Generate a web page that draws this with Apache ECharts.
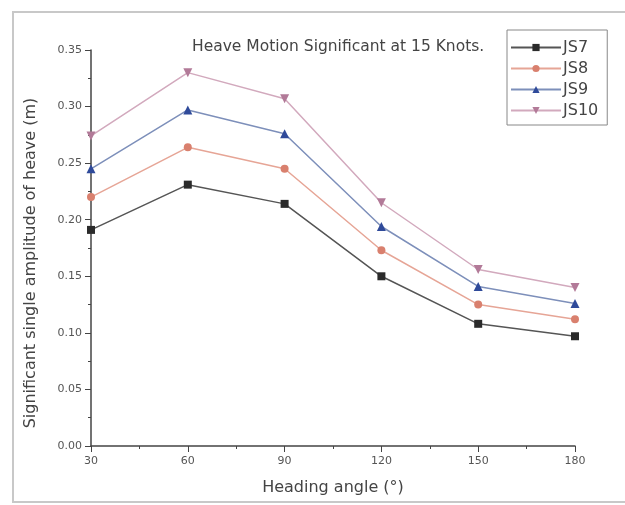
<!DOCTYPE html>
<html><head><meta charset="utf-8">
<script src="https://cdn.jsdelivr.net/npm/echarts@6/dist/echarts.min.js"></script>
<style>html,body{margin:0;padding:0;background:#fff}#c{width:625px;height:505px}</style>
</head><body><div id="c"></div>
<script>
const headings = [30, 60, 90, 120, 150, 180];
const js7  = [0.191, 0.231, 0.214, 0.150, 0.108, 0.097];
const js8  = [0.220, 0.264, 0.245, 0.173, 0.125, 0.112];
const js9  = [0.245, 0.297, 0.276, 0.194, 0.141, 0.126];
const js10 = [0.274, 0.330, 0.307, 0.215, 0.156, 0.140];
const seriesNames = ['JS7', 'JS8', 'JS9', 'JS10'];

const font = 'DejaVu Sans, Liberation Sans, Arial, sans-serif';
const styles = [
  {symbol: 'rect', size: 8, mark: '#2b2b2b', line: '#555555'},
  {symbol: 'circle', size: 8, mark: '#d9806e', line: '#e6a596'},
  {symbol: 'triangle', size: 9, mark: '#2f4a9a', line: '#7d8fba'},
  {symbol: 'path://M0,0 L10,0 L5,9 Z', size: 9, mark: '#b27a98', line: '#d2a9bd'}
];
const data = [js7, js8, js9, js10];
const chart = echarts.init(document.getElementById('c'));
chart.setOption({
  animation: false,
  textStyle: {fontFamily: font},
  graphic: [
    {type: 'rect', shape: {x: 13, y: 12, width: 620, height: 490},
      style: {fill: 'none', stroke: '#c8c8c8', lineWidth: 2}, silent: true},
    {type: 'text', x: 31, y: 263, rotation: Math.PI / 2, silent: true,
      style: {text: 'Significant single amplitude of heave (m)', fill: '#444',
        font: '16px ' + font, textAlign: 'center', textVerticalAlign: 'middle'}}
  ],
  title: {text: 'Heave Motion Significant at 15 Knots.', left: 187, top: 34,
    textStyle: {fontSize: 15.5, fontWeight: 'normal', color: '#444', fontFamily: font}},
  legend: {orient: 'vertical', left: 507, top: 30, width: 105,
    itemWidth: 50, itemHeight: 9, itemGap: 4,
    padding: [9, 9, 6, 3], borderColor: '#888', borderWidth: 1,
    textStyle: {fontSize: 16, lineHeight: 17, color: '#444', fontFamily: font, padding: [0, 0, 0, -3]},
    data: seriesNames},
  grid: {left: 91, right: 50, top: 50, bottom: 59},
  xAxis: {type: 'value', min: 30, max: 180, interval: 30,
    name: 'Heading angle (°)', nameLocation: 'middle', nameGap: 34,
    nameTextStyle: {fontSize: 16, color: '#444'},
    axisLine: {show: true, lineStyle: {color: '#444', width: 1.5}},
    axisTick: {show: true, length: 6, lineStyle: {color: '#444'}},
    minorTick: {show: true, splitNumber: 2, length: 3, lineStyle: {color: '#444'}},
    splitLine: {show: false},
    axisLabel: {fontSize: 11, color: '#555', margin: 10}},
  yAxis: {type: 'value', min: 0, max: 0.35, interval: 0.05,
    axisLine: {show: true, lineStyle: {color: '#444', width: 1.5}},
    axisTick: {show: true, length: 6, lineStyle: {color: '#444'}},
    minorTick: {show: true, splitNumber: 2, length: 3, lineStyle: {color: '#444'}},
    splitLine: {show: false},
    axisLabel: {fontSize: 11, color: '#555', margin: 9, formatter: v => v.toFixed(2)}},
  series: seriesNames.map((n, i) => ({
    name: n, type: 'line',
    data: headings.map((h, j) => [h, data[i][j]]),
    symbol: styles[i].symbol, symbolSize: styles[i].size,
    itemStyle: {color: styles[i].mark},
    lineStyle: {color: styles[i].line, width: 1.5}
  }))
});
</script></body></html>
